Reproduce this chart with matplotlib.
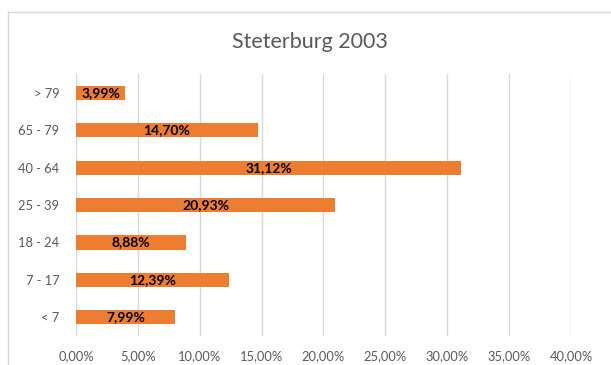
import matplotlib.pyplot as plt
from matplotlib.lines import Line2D

categories = ["< 7", "7 - 17", "18 - 24", "25 - 39", "40 - 64", "65 - 79", "> 79"]
values = [7.99, 12.39, 8.88, 20.93, 31.12, 14.70, 3.99]
xticks = [0, 5, 10, 15, 20, 25, 30, 35, 40]

plt.rcParams['font.family'] = ['Lato', 'DejaVu Sans']

fig = plt.figure(figsize=(6.11, 3.65), dpi=100)
ax = fig.add_axes([0.1244, 0.0795, 0.8101, 0.7175])

bars = ax.barh(range(len(categories)), values, height=0.38, color='#ED7D31', zorder=3)
for i, v in enumerate(values):
    label = f"{v:.2f}%".replace('.', ',')
    ax.text(v / 2, i, label, ha='center', va='center', fontsize=10,
            fontweight='bold', color='black', zorder=4)

ax.set_xlim(0, 40)
ax.set_ylim(-0.5, len(categories) - 0.5)
ax.set_xticks(xticks)
ax.set_xticklabels([f"{t:.2f}%".replace('.', ',') for t in xticks])
ax.set_yticks(range(len(categories)))
ax.set_yticklabels(categories)
ax.tick_params(length=0, labelsize=9.3, colors='#595959', pad=12)
ax.tick_params(axis='x', pad=10)
ax.grid(axis='x', color='#D9D9D9', linewidth=1, zorder=0)
for s in ax.spines.values():
    s.set_visible(False)

fig.text(310 / 611, 1 - 42 / 365, "Steterburg 2003", ha='center', va='center',
         fontsize=15.5, color='#595959')

# chart border (cropped at right and bottom)
fig.add_artist(Line2D([8 / 611, 8 / 611], [0, 1 - 12 / 365], color='#D9D9D9', lw=1))
fig.add_artist(Line2D([8 / 611, 1], [1 - 12 / 365, 1 - 12 / 365], color='#D9D9D9', lw=1))

fig.savefig('out.png', dpi=100)
